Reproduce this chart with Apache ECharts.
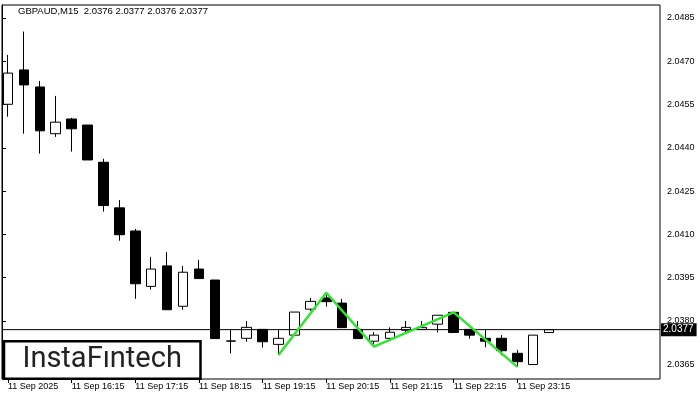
<!DOCTYPE html>
<html><head><meta charset="utf-8">
<script src="https://cdn.jsdelivr.net/npm/echarts@6/dist/echarts.min.js"></script>
<style>html,body{margin:0;padding:0;background:#fff}#c{width:700px;height:400px}</style>
</head><body><div id="c"></div>
<script>
const symbolName = 'GBPAUD,M15';
const categories = ['11 Sep 15:15','11 Sep 15:30','11 Sep 15:45','11 Sep 16:00','11 Sep 16:15','11 Sep 16:30','11 Sep 16:45','11 Sep 17:00',
  '11 Sep 17:15','11 Sep 17:30','11 Sep 17:45','11 Sep 18:00','11 Sep 18:15','11 Sep 18:30','11 Sep 18:45','11 Sep 19:00',
  '11 Sep 19:15','11 Sep 19:30','11 Sep 19:45','11 Sep 20:00','11 Sep 20:15','11 Sep 20:30','11 Sep 20:45','11 Sep 21:00',
  '11 Sep 21:15','11 Sep 21:30','11 Sep 21:45','11 Sep 22:00','11 Sep 22:15','11 Sep 22:30','11 Sep 22:45','11 Sep 23:00',
  '11 Sep 23:15','11 Sep 23:30','11 Sep 23:45'];
const opens  = [2.04551,2.04670,2.04611,2.04449,2.04500,2.04479,2.04350,2.04192,2.04112,2.03920,2.03991,2.03851,2.03980,2.03942,2.03730,2.03740,2.03771,2.03719,2.03751,2.03841,2.03880,2.03862,2.03771,2.03730,2.03740,2.03768,2.03771,2.03789,2.03830,2.03771,2.03740,2.03740,2.03688,2.03649,2.0376];
const closes = [2.04659,2.04618,2.04459,2.04489,2.04466,2.04358,2.04200,2.04099,2.03929,2.03980,2.03839,2.03969,2.03947,2.03739,2.03731,2.03778,2.03728,2.03740,2.03831,2.03868,2.03867,2.03777,2.03739,2.03751,2.03761,2.03778,2.03778,2.03820,2.03760,2.03751,2.03730,2.03697,2.03659,2.03751,2.0377];
const lows   = [2.04508,2.04449,2.04380,2.04438,2.04387,2.04358,2.04179,2.04078,2.03877,2.03909,2.03839,2.03839,2.03947,2.03739,2.03688,2.03728,2.03708,2.03682,2.03751,2.03835,2.03850,2.03777,2.03739,2.03711,2.03738,2.03762,2.03771,2.03760,2.03760,2.03739,2.03709,2.03681,2.03641,2.03649,2.0376];
const highs  = [2.04722,2.04803,2.04632,2.04580,2.04504,2.04479,2.04362,2.04219,2.04119,2.04022,2.04039,2.03991,2.04012,2.03942,2.03771,2.03800,2.03771,2.03771,2.03831,2.03880,2.03898,2.03877,2.03800,2.03762,2.03778,2.03800,2.03800,2.03820,2.03830,2.03771,2.03771,2.03751,2.03700,2.03751,2.0377];
const patternIdx  = [17, 20, 23, 28, 32];
const patternVals = [2.03682, 2.03898, 2.03711, 2.03830, 2.03641];
const yTicks = [2.0365, 2.0380, 2.0395, 2.0410, 2.0425, 2.0440, 2.0455, 2.0470, 2.0485];
const xTickLabels = ['11 Sep 2025','11 Sep 16:15','11 Sep 17:15','11 Sep 18:15','11 Sep 19:15','11 Sep 20:15','11 Sep 21:15','11 Sep 22:15','11 Sep 23:15'];
const lastPrice = 2.0377;

const chart = echarts.init(document.getElementById('c'));
const padCount = 6;
const axisCats = categories.concat(Array.from({length: padCount}, (_, k) => 'pad' + k));
const candleData = opens.map((o, i) => [o, closes[i], lows[i], highs[i]]);
const patternData = categories.map((_, i) => { const k = patternIdx.indexOf(i); return k >= 0 ? patternVals[k] : null; });
const n = opens.length - 1;
const titleText = symbolName + '  ' + [opens[n], highs[n], lows[n], closes[n]].map(v => v.toFixed(4)).join(' ');
const yMin = 2.03599, yMax = 2.04895;
const font = 'Liberation Sans';
const barStep = 16.03;
const tickFn = (i) => i % 4 === 0 && i / 4 < xTickLabels.length;

chart.setOption({
  animation: false,
  title: { text: titleText, left: 18, top: 6, padding: 0, textStyle: { fontSize: 9.5, fontWeight: 'normal', color: '#000', fontFamily: font } },
  grid: [
    { left: -4.6, top: 5, bottom: 21, width: barStep * axisCats.length },
    { left: 2, top: 5, right: 40, bottom: 21, show: true, borderColor: '#000', borderWidth: 1, backgroundColor: 'transparent' }
  ],
  xAxis: [
    { type: 'category', gridIndex: 0, data: axisCats, boundaryGap: true,
      axisLine: { show: false },
      axisTick: { show: true, alignWithLabel: true, interval: tickFn, length: 4, lineStyle: { color: '#000' } },
      axisLabel: { interval: tickFn, formatter: (v, i) => xTickLabels[i / 4], align: 'left', margin: 3, fontSize: 9, color: '#000', fontFamily: font },
      splitLine: { show: false } },
    { type: 'value', gridIndex: 1, min: 0, max: 1, show: false }
  ],
  yAxis: [
    { type: 'value', gridIndex: 0, min: yMin, max: yMax, show: false },
    { type: 'value', gridIndex: 1, min: yMin, max: yMax, position: 'right',
      axisLine: { show: true, lineStyle: { color: '#000' } },
      axisTick: { show: true, customValues: yTicks, length: 4, lineStyle: { color: '#000' } },
      axisLabel: { customValues: yTicks, formatter: v => v.toFixed(4), margin: 7, fontSize: 9, color: '#000', fontFamily: font },
      splitLine: { show: false } }
  ],
  series: [
    { type: 'candlestick', xAxisIndex: 0, yAxisIndex: 0, data: candleData, barWidth: 10,
      itemStyle: { color: '#fff', color0: '#000', borderColor: '#000', borderColor0: '#000', borderColorDoji: '#000', borderWidth: 1 } },
    { type: 'line', xAxisIndex: 0, yAxisIndex: 0, data: patternData, connectNulls: true, symbol: 'none', z: 5,
      lineStyle: { color: '#2fe52f', width: 2.5 } },
    { type: 'line', xAxisIndex: 1, yAxisIndex: 1, data: [[0, lastPrice], [1, lastPrice]], symbol: 'none', z: 4,
      lineStyle: { color: '#000', width: 1 },
      markPoint: { symbol: 'rect', symbolSize: [0, 0], silent: true,
        label: { show: true, position: 'right', formatter: lastPrice.toFixed(4), backgroundColor: '#000', color: '#fff', padding: [2, 3, 1, 2], fontSize: 10, fontFamily: font, distance: 1 },
        data: [{ coord: [1, lastPrice] }] } }
  ],
  graphic: [
    { type: 'rect', z: 100, shape: { x: 4, y: 341.3, width: 196.5, height: 37.5 }, style: { fill: '#fff', stroke: '#000', lineWidth: 2.5 } },
    { type: 'text', z: 101, style: { x: 22.5, y: 360, text: 'InstaFıntech', font: '400 29px Roboto', fill: '#222', textVerticalAlign: 'middle' } }
  ]
});
</script></body></html>
